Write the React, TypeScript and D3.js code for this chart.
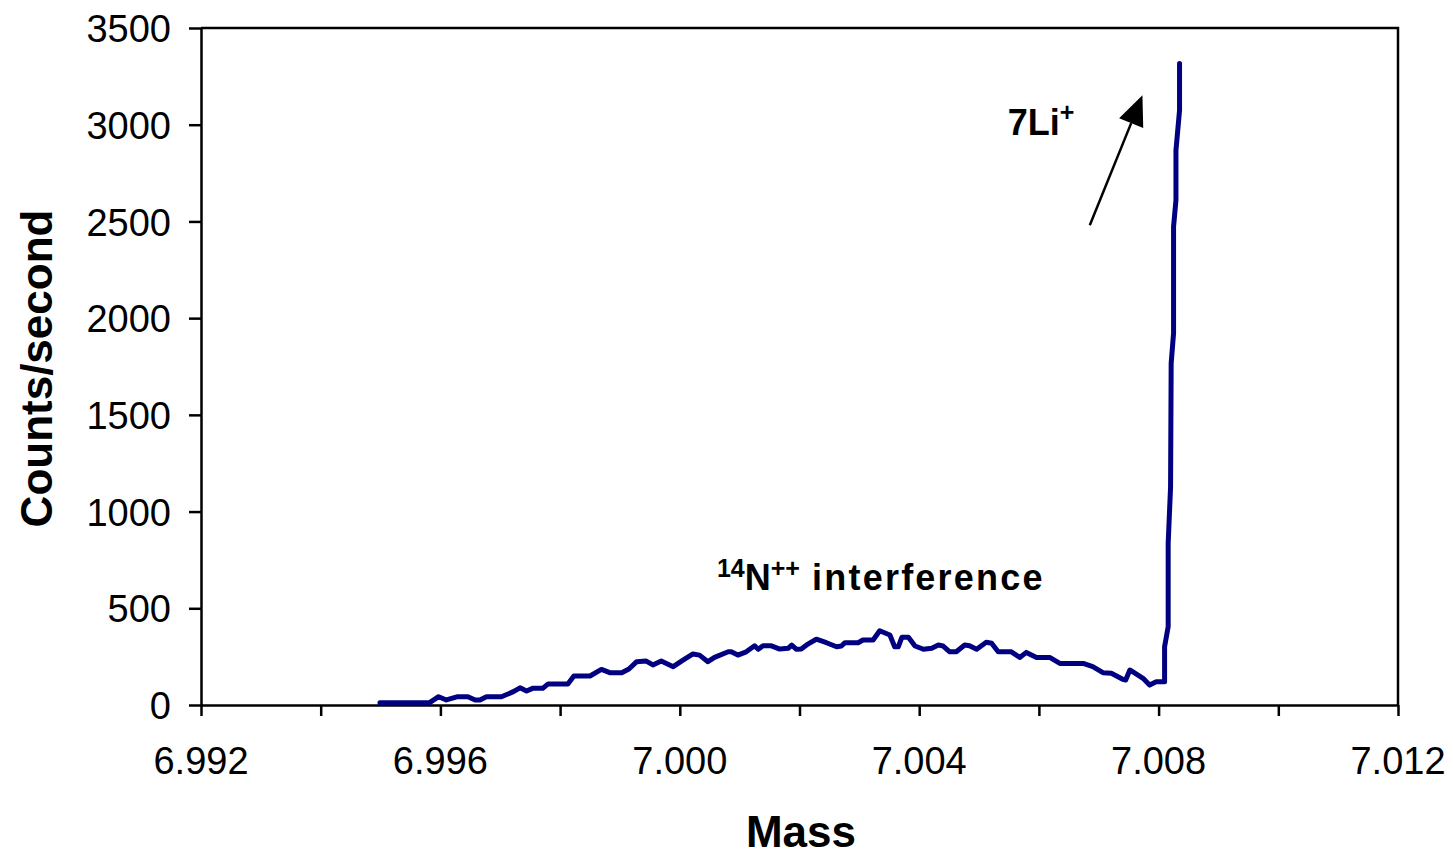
import React, { useEffect, useRef } from 'react';
import * as d3 from 'd3';

// mass (amu) and counts/second
const mass = [
  6.99499, 6.99582, 6.99597, 6.9961, 6.99629, 6.99646, 6.99658, 6.99666, 6.99677, 6.99702,
  6.99722, 6.99733, 6.99744, 6.99754, 6.99771, 6.9978, 6.99813, 6.99823, 6.9985, 6.99869,
  6.99883, 6.99903, 6.99915, 6.99928, 6.99944, 6.99955, 6.99969, 6.99989, 7.00006, 7.00022,
  7.00033, 7.00047, 7.00058, 7.00081, 7.00086, 7.00097, 7.00111, 7.00125, 7.00131, 7.00139,
  7.00153, 7.00167, 7.00181, 7.00187, 7.00195, 7.00203, 7.00214, 7.00228, 7.00245, 7.00262,
  7.0027, 7.00276, 7.00298, 7.00306, 7.00323, 7.00334, 7.00351, 7.00359, 7.00365, 7.00371,
  7.00382, 7.00393, 7.00407, 7.00421, 7.00432, 7.0044, 7.00451, 7.00462, 7.00476, 7.00484,
  7.00496, 7.00512, 7.00521, 7.00532, 7.00554, 7.00568, 7.00579, 7.00596, 7.00618, 7.00635,
  7.00674, 7.0069, 7.00707, 7.00721, 7.0074, 7.00745, 7.00752, 7.00763, 7.00774, 7.00785,
  7.00796, 7.0081, 7.0081, 7.00816, 7.00816, 7.0082, 7.00821, 7.00825, 7.00825, 7.00829,
  7.00829, 7.00835, 7.00835,
];

const counts = [
  12, 12, 43, 26, 43, 43, 26, 26, 43, 43,
  69, 89, 72, 86, 86, 109, 109, 150, 150, 184,
  167, 167, 186, 224, 227, 207, 227, 198, 233, 264,
  258, 224, 246, 275, 275, 258, 275, 306, 288, 306,
  306, 289, 293, 310, 288, 289, 315, 340, 322, 301,
  305, 322, 322, 336, 336, 384, 362, 301, 301, 350,
  350, 305, 288, 293, 310, 305, 275, 275, 310, 306,
  288, 324, 319, 275, 275, 246, 272, 246, 246, 215,
  215, 198, 167, 164, 133, 129, 181, 160, 138, 103,
  120, 120, 301, 405, 836, 1128, 1767, 1922, 2472, 2610,
  2868, 3075, 3316,
];

const xTicks = [6.992, 6.994, 6.996, 6.998, 7.0, 7.002, 7.004, 7.006, 7.008, 7.01, 7.012];
const xLabels = [6.992, 6.996, 7.0, 7.004, 7.008, 7.012];
const yTicks = [0, 500, 1000, 1500, 2000, 2500, 3000, 3500];

const FONT = "'Liberation Sans', Arial, sans-serif";

const App = () => {
  const svgRef = useRef<SVGSVGElement>(null);

  useEffect(() => {
    const svg = d3.select(svgRef.current);
    svg.selectAll('*').remove();

    const margin = { top: 28, right: 55, bottom: 154, left: 201 };
    const W = 1453;
    const H = 859;

    const x = d3.scaleLinear()
      .domain([6.992, 7.012])
      .range([margin.left, W - margin.right]);

    const y = d3.scaleLinear()
      .domain([0, 3500])
      .range([H - margin.bottom, margin.top]);

    const data = mass.map((m, i) => [m, counts[i]] as [number, number]);

    // plot frame (top and right)
    svg.append('path')
      .attr('d', `M${x(6.992)},${y(3500)}H${x(7.012)}V${y(0)}`)
      .attr('fill', 'none')
      .attr('stroke', '#000')
      .attr('stroke-width', 2.5);

    // x axis
    const xAxis = svg.append('g')
      .attr('transform', `translate(0,${y(0)})`)
      .call(d3.axisBottom(x).tickValues(xTicks).tickSize(11).tickSizeOuter(0).tickFormat(() => ''));
    xAxis.select('.domain').attr('stroke-width', 2.5);
    xAxis.selectAll('.tick line').attr('stroke-width', 2.5);

    svg.append('g')
      .selectAll('text')
      .data(xLabels)
      .enter()
      .append('text')
      .attr('x', d => x(d))
      .attr('y', y(0) + 69)
      .attr('text-anchor', 'middle')
      .style('font-family', FONT)
      .style('font-size', '38px')
      .text(d => d.toFixed(3));

    // y axis
    const yAxis = svg.append('g')
      .attr('transform', `translate(${x(6.992)},0)`)
      .call(d3.axisLeft(y).tickValues(yTicks).tickSize(12).tickSizeOuter(0).tickPadding(18).tickFormat(d3.format('d')));
    yAxis.select('.domain').attr('stroke-width', 2.5);
    yAxis.selectAll('.tick line').attr('stroke-width', 2.5);
    yAxis.selectAll('.tick text')
      .style('font-family', FONT)
      .style('font-size', '38px')
      .attr('dy', '0.36em')
      .attr('fill', '#000');

    // axis titles
    svg.append('text')
      .attr('x', 801)
      .attr('y', 847)
      .attr('text-anchor', 'middle')
      .style('font-family', FONT)
      .style('font-size', '44px')
      .style('font-weight', 'bold')
      .text('Mass');

    svg.append('text')
      .attr('transform', `translate(52,${(y(0) + y(3500)) / 2 + 2}) rotate(-90)`)
      .attr('text-anchor', 'middle')
      .style('font-family', FONT)
      .style('font-size', '44px')
      .style('font-weight', 'bold')
      .text('Counts/second');

    // spectrum line
    const line = d3.line<[number, number]>()
      .x(d => x(d[0]))
      .y(d => y(d[1]));

    svg.append('path')
      .datum(data)
      .attr('d', line)
      .attr('fill', 'none')
      .attr('stroke', '#000080')
      .attr('stroke-width', 5)
      .attr('stroke-linejoin', 'round')
      .attr('stroke-linecap', 'round');

    // annotations
    const li = svg.append('text')
      .attr('x', x(7.00548))
      .attr('y', y(2946))
      .style('font-family', FONT)
      .style('font-size', '36px')
      .style('font-weight', 'bold');
    li.append('tspan').text('7Li');
    li.append('tspan').attr('dy', -14).style('font-size', '25px').text('+');

    const n = svg.append('text')
      .attr('x', x(7.00062))
      .attr('y', y(594))
      .style('font-family', FONT)
      .style('font-size', '36px')
      .style('font-weight', 'bold');
    n.append('tspan').attr('dy', -13).style('font-size', '25px').text('14');
    n.append('tspan').attr('dy', 13).text('N');
    n.append('tspan').attr('dy', -13).style('font-size', '25px').text('++');
    n.append('tspan').attr('dy', 13).attr('letter-spacing', 2.2).text(' interference');

    // arrow to the 7Li peak
    const tail: [number, number] = [x(7.00685), y(2480)];
    const tip: [number, number] = [x(7.00773), y(3152)];
    const ang = Math.atan2(tip[1] - tail[1], tip[0] - tail[0]);
    const headLen = 30;
    const headW = 13;
    const bx = tip[0] - headLen * Math.cos(ang);
    const by = tip[1] - headLen * Math.sin(ang);
    svg.append('line')
      .attr('x1', tail[0])
      .attr('y1', tail[1])
      .attr('x2', bx)
      .attr('y2', by)
      .attr('stroke', '#000')
      .attr('stroke-width', 2.5);
    svg.append('path')
      .attr('d', `M${tip[0]},${tip[1]}L${bx + headW * Math.sin(ang)},${by - headW * Math.cos(ang)}L${bx - headW * Math.sin(ang)},${by + headW * Math.cos(ang)}Z`)
      .attr('fill', '#000');
  }, []);

  return (
    <svg
      ref={svgRef}
      width={1453}
      height={859}
      style={{ position: 'absolute', left: 0, top: 0, background: '#fff' }}
    />
  );
};

export default App;
